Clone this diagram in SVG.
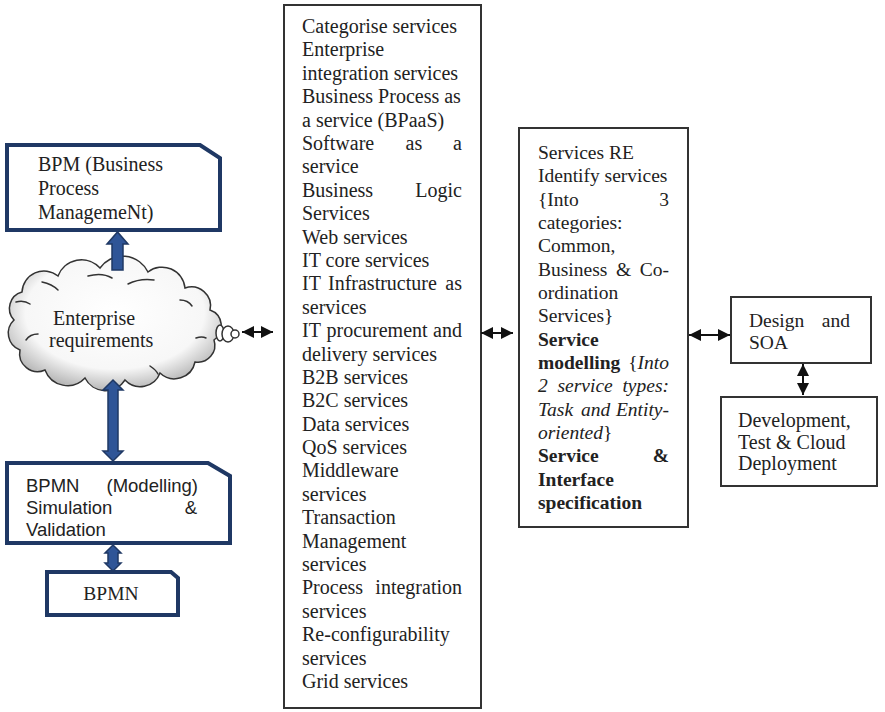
<svg xmlns="http://www.w3.org/2000/svg" width="885" height="712" viewBox="0 0 885 712">
<defs>
<style>
.serif{font-family:"Liberation Serif","Times New Roman",serif;font-size:20px;fill:#222}
.sans{font-family:"Liberation Sans",Arial,sans-serif;font-size:18.5px;fill:#222}
.r{font-size:19.5px}
.b{font-weight:bold}
.i{font-style:italic}
.end{text-anchor:end}
.blue{fill:#fff;stroke:#1f3864;stroke-width:4;stroke-linejoin:miter}
.box{fill:#fff;stroke:#333;stroke-width:2}
.barrow{fill:#2f5597;stroke:#1f3864;stroke-width:1.5;stroke-linejoin:miter}
.conn{stroke:#111;stroke-width:2;fill:none;marker-start:url(#ah);marker-end:url(#ah)}
.det{fill:none;stroke:#333;stroke-width:1.5;stroke-linecap:round}
</style>
<marker id="ah" viewBox="0 0 12 12" markerWidth="12" markerHeight="12" refX="12" refY="6" orient="auto-start-reverse" markerUnits="userSpaceOnUse">
<path d="M0,0 L12,6 L0,12 Z" fill="#111"/>
</marker>
<radialGradient id="cg" cx="50%" cy="42%" r="60%">
<stop offset="0" stop-color="#ffffff"/>
<stop offset="0.7" stop-color="#f7f7f7"/>
<stop offset="1" stop-color="#b0b0b0"/>
</radialGradient>
</defs>

<g id="bpm">
<polygon class="blue" points="7,145 200,145 220,158 220,230 7,230"/>
<text class="serif" x="38" y="171">BPM (Business</text>
<text class="serif" x="38" y="195">Process</text>
<text class="serif" x="38" y="219">ManagemeNt)</text>
</g>

<g id="cloud">
<path d="M14,320 A17,17 0 0 1 22,292 A22,22 0 0 1 58,276 A25,25 0 0 1 100,268 A28,28 0 0 1 148,272 A23,23 0 0 1 185,288 A19,19 0 0 1 210,310 A17,17 0 0 1 214,340 A17,17 0 0 1 195,362 A21,21 0 0 1 160,373 A21,21 0 0 1 125,380 A23,23 0 0 1 85,378 A24,24 0 0 1 45,370 A18,18 0 0 1 20,350 A18,18 0 0 1 14,320 Z" fill="url(#cg)" stroke="#333" stroke-width="1.5"/>
<path class="det" d="M16,302 q8,-2 14,2"/>
<path class="det" d="M42,282 q10,2 16,8"/>
<path class="det" d="M88,276 q14,-4 24,2"/>
<path class="det" d="M128,284 q12,-6 26,-4"/>
<path class="det" d="M180,300 q8,0 12,6"/>
<path class="det" d="M196,338 q6,-2 10,0"/>
<path class="det" d="M26,340 q4,-6 12,-6"/>
<path class="det" d="M150,366 q6,4 8,8"/>
<ellipse cx="220" cy="333" rx="4" ry="8" fill="#fff" stroke="#333" stroke-width="1.5"/>
<ellipse cx="228" cy="334" rx="6" ry="8" fill="#fff" stroke="#333" stroke-width="1.5"/>
<circle cx="235" cy="334" r="4" fill="#fff" stroke="#333" stroke-width="1.5"/>
<text class="serif" x="53" y="325">Enterprise</text>
<text class="serif" x="49" y="347">requirements</text>
</g>

<g id="bpmn-model">
<polygon class="blue" points="7,463 208,463 230,476 230,543 7,543"/>
<text class="sans" x="26" y="492">BPMN</text>
<text class="sans end" x="198" y="492">(Modelling)</text>
<text class="sans" x="26" y="514">Simulation</text>
<text class="sans end" x="197" y="514">&amp;</text>
<text class="sans" x="26" y="536">Validation</text>
</g>

<g id="bpmn">
<polygon class="blue" points="47,572 171,572 178,578 178,615 47,615"/>
<text class="serif" x="111" y="600" text-anchor="middle" style="font-size:19.5px">BPMN</text>
</g>

<g id="categorise">
<rect class="box" x="284" y="5" width="197" height="703"/>
<text class="serif" x="302" y="33">Categorise services</text>
<text class="serif" x="302" y="56.4">Enterprise</text>
<text class="serif" x="302" y="79.8">integration services</text>
<text class="serif" x="302" y="103.2">Business Process as</text>
<text class="serif" x="302" y="126.6">a service (BPaaS)</text>
<text class="serif" x="302" y="150">Software</text>
<text class="serif" x="405.5" y="150">as</text>
<text class="serif end" x="462" y="150">a</text>
<text class="serif" x="302" y="173.3">service</text>
<text class="serif" x="302" y="196.7">Business</text>
<text class="serif end" x="462" y="196.7">Logic</text>
<text class="serif" x="302" y="220.1">Services</text>
<text class="serif" x="302" y="243.5">Web services</text>
<text class="serif" x="302" y="266.9">IT  core services</text>
<text class="serif" x="302" y="290.3">IT</text>
<text class="serif" x="328" y="290.3">Infrastructure</text>
<text class="serif end" x="462" y="290.3">as</text>
<text class="serif" x="302" y="313.7">services</text>
<text class="serif" x="302" y="337.1">IT</text>
<text class="serif" x="326.5" y="337.1">procurement</text>
<text class="serif end" x="462" y="337.1">and</text>
<text class="serif" x="302" y="360.5">delivery services</text>
<text class="serif" x="302" y="383.9">B2B services</text>
<text class="serif" x="302" y="407.2">B2C services</text>
<text class="serif" x="302" y="430.6">Data services</text>
<text class="serif" x="302" y="454">QoS services</text>
<text class="serif" x="302" y="477.4">Middleware</text>
<text class="serif" x="302" y="500.8">services</text>
<text class="serif" x="302" y="524.2">Transaction</text>
<text class="serif" x="302" y="547.6">Management</text>
<text class="serif" x="302" y="571">services</text>
<text class="serif" x="302" y="594.4">Process</text>
<text class="serif end" x="462" y="594.4">integration</text>
<text class="serif" x="302" y="617.8">services</text>
<text class="serif" x="302" y="641.1">Re-configurability</text>
<text class="serif" x="302" y="664.5">services</text>
<text class="serif" x="302" y="688">Grid services</text>
</g>

<g id="services-re">
<rect class="box" x="519" y="128" width="169" height="399"/>
<text class="serif r" x="538" y="159">Services RE</text>
<text class="serif r" x="538" y="182.3">Identify services</text>
<text class="serif r" x="538" y="205.7">{Into</text>
<text class="serif r end" x="669" y="205.7">3</text>
<text class="serif r" x="538" y="229">categories:</text>
<text class="serif r" x="538" y="252.3">Common,</text>
<text class="serif r" x="538" y="275.7">Business</text>
<text class="serif r" x="616" y="275.7">&amp;</text>
<text class="serif r end" x="669" y="275.7">Co-</text>
<text class="serif r" x="538" y="299">ordination</text>
<text class="serif r" x="538" y="322.3">Services}</text>
<text class="serif r b" x="538" y="345.7">Service</text>
<text class="serif r b" x="538" y="369">modelling</text>
<text class="serif r end" x="669" y="369">{<tspan class="i">Into</tspan></text>
<text class="serif r i" x="538" y="392.3">2</text>
<text class="serif r i" x="557.5" y="392.3">service</text>
<text class="serif r i end" x="669" y="392.3">types:</text>
<text class="serif r i" x="538" y="415.7">Task</text>
<text class="serif r i" x="581" y="415.7">and</text>
<text class="serif r i end" x="669" y="415.7">Entity-</text>
<text class="serif r" x="538" y="439"><tspan class="i">oriented</tspan>}</text>
<text class="serif r b" x="538" y="462.3">Service</text>
<text class="serif r b end" x="669" y="462.3">&amp;</text>
<text class="serif r b" x="538" y="485.7">Interface</text>
<text class="serif r b" x="538" y="509">specification</text>
</g>

<g id="design-soa">
<rect class="box" x="731" y="297" width="140" height="66"/>
<text class="serif r" x="749" y="327">Design</text>
<text class="serif r end" x="850" y="327">and</text>
<text class="serif r" x="749" y="349">SOA</text>
</g>

<g id="development">
<rect class="box" x="721" y="397" width="156" height="89"/>
<text class="serif" x="738" y="427">Development,</text>
<text class="serif" x="738" y="448.5">Test &amp; Cloud</text>
<text class="serif" x="738" y="470">Deployment</text>
</g>

<g id="connectors">
<polygon class="barrow" points="112,270 112,244 107,244 117.5,232 128,244 123,244 123,270"/>
<polygon class="barrow" points="113,380 123,390 118,390 118,451 123,451 113,461 103,451 108,451 108,390 103,390"/>
<polygon class="barrow" points="113,545 121,553 118,553 118,563 121,563 113,571 105,563 108,563 108,553 105,553"/>
<line class="conn" x1="242" y1="332" x2="273" y2="332"/>
<line class="conn" x1="481" y1="333" x2="513" y2="333"/>
<line class="conn" x1="689" y1="335" x2="730" y2="335"/>
<line class="conn" x1="803" y1="364" x2="803" y2="395"/>
</g>
</svg>
